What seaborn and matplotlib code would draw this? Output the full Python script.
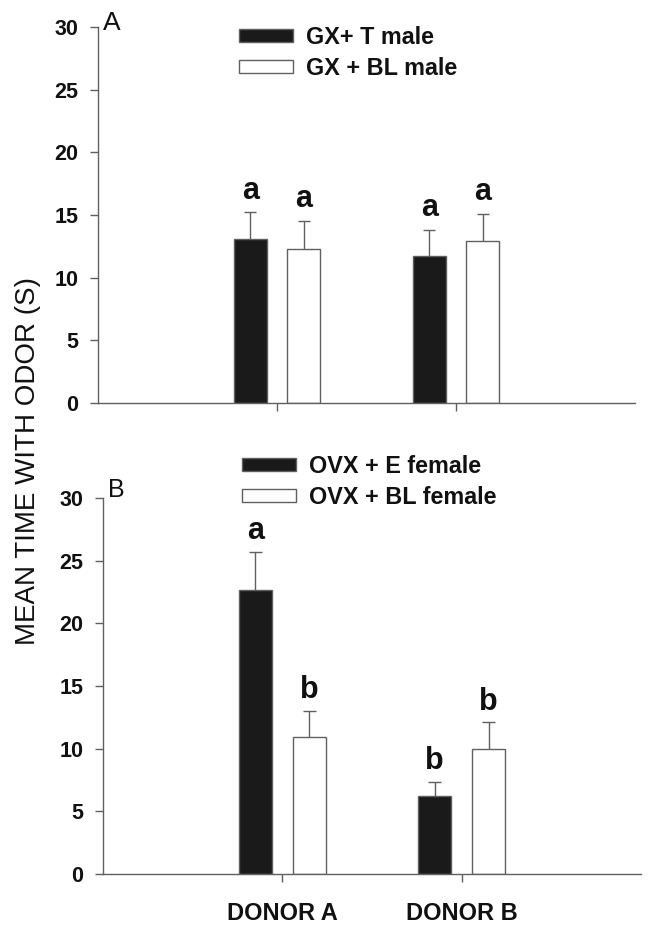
import matplotlib
matplotlib.use("Agg")
import matplotlib.pyplot as plt
import matplotlib.patches as mpatches
import seaborn as sns
import pandas as pd

# ---- data ----
donors = ["DONOR A", "DONOR B"]

male_groups = ["GX+ T male", "GX + BL male"]
male_mean_t = [13.1, 11.75]
male_mean_bl = [12.3, 12.9]
male_sem_t = [2.1, 2.05]
male_sem_bl = [2.2, 2.2]
male_letters_t = ["a", "a"]
male_letters_bl = ["a", "a"]

female_groups = ["OVX + E female", "OVX + BL female"]
female_mean_e = [22.65, 6.2]
female_mean_bl = [10.9, 9.95]
female_sem_e = [3.05, 1.15]
female_sem_bl = [2.1, 2.15]
female_letters_e = ["a", "b"]
female_letters_bl = ["b", "b"]

yticks = [0, 5, 10, 15, 20, 25, 30]

# ---- style ----
sns.set_style("ticks")
plt.rcParams["font.family"] = ["Liberation Sans", "DejaVu Sans"]

W, H = 652, 925
fig = plt.figure(figsize=(W / 100, H / 100), dpi=100)

GREY = "#606060"
BLACK = "#1a1a1a"
TXT = "#111111"


def px_box(l, r, b, t):
    return [l / W, 1 - b / H, (r - l) / W, (b - t) / H]


def panel(ax, groups, m1, m2, s1, s2, l1, l2, show_xlabels, letter_offset):
    df = pd.DataFrame({
        "donor": donors * 2,
        "group": [groups[0]] * len(donors) + [groups[1]] * len(donors),
        "time": list(m1) + list(m2),
    })
    sns.barplot(data=df, x="donor", y="time", hue="group", order=donors,
                hue_order=groups, palette=[BLACK, "white"], saturation=1,
                width=0.6, gap=0.38, edgecolor=GREY, linewidth=1.0,
                errorbar=None, legend=False, ax=ax)
    sems = [s1, s2]
    letters = [l1, l2]
    means = [m1, m2]
    for ci, cont in enumerate(ax.containers):
        for bi, bar in enumerate(cont.patches):
            xc = bar.get_x() + bar.get_width() / 2
            top = means[ci][bi]
            cap = top + sems[ci][bi]
            ax.vlines(xc, top, cap, color=GREY, lw=1.0, zorder=3)
            hw = 0.035
            ax.hlines(cap, xc - hw, xc + hw, color=GREY, lw=1.0, zorder=3)
            ax.text(xc, cap + letter_offset, letters[ci][bi], ha="center",
                    va="bottom", fontsize=22, fontweight="bold", color=TXT)
    ax.set_xlim(-1, 2)
    ax.set_ylim(0, 30)
    ax.set_yticks(yticks)
    ax.set_yticklabels([str(v) for v in yticks], fontsize=15.5, fontweight="bold",
                       color=TXT)
    ax.set_xticks([0, 1])
    if show_xlabels:
        ax.set_xticklabels(donors, fontsize=17, fontweight="bold", color=TXT)
    else:
        ax.set_xticklabels(["", ""])
    ax.set_xlabel("")
    ax.set_ylabel("")
    ax.tick_params(axis="both", direction="out", length=6, width=1.0,
                   color=GREY, pad=8)
    ax.tick_params(axis="x", pad=14)
    for sp in ["top", "right"]:
        ax.spines[sp].set_visible(False)
    for sp in ["left", "bottom"]:
        ax.spines[sp].set_color(GREY)
        ax.spines[sp].set_linewidth(1.0)
    ax.set_facecolor("white")


ax1 = fig.add_axes(px_box(98, 635, 403, 27))
panel(ax1, male_groups, male_mean_t, male_mean_bl, male_sem_t, male_sem_bl,
      male_letters_t, male_letters_bl, False, 0.55)

ax2 = fig.add_axes(px_box(103, 641, 874, 498))
panel(ax2, female_groups, female_mean_e, female_mean_bl, female_sem_e,
      female_sem_bl, female_letters_e, female_letters_bl, True, 0.45)


def make_legend(groups, x_px, y_px):
    handles = [mpatches.Patch(facecolor=BLACK, edgecolor=GREY, lw=1.0, label=groups[0]),
               mpatches.Patch(facecolor="white", edgecolor=GREY, lw=1.0, label=groups[1])]
    leg = fig.legend(handles=handles, loc="upper left",
                     bbox_to_anchor=(x_px / W, 1 - y_px / H),
                     bbox_transform=fig.transFigure, frameon=False,
                     prop={"size": 16.8, "weight": "bold"}, borderpad=0,
                     borderaxespad=0, handlelength=2.32, handleheight=0.47,
                     handletextpad=0.56, labelspacing=0.34)
    for t in leg.get_texts():
        t.set_color(TXT)
    return leg


make_legend(male_groups, 239, 26)
make_legend(female_groups, 242, 455)

fig.text(103 / W, 1 - 30 / H, "A", fontsize=19, color=TXT, ha="left", va="baseline")
fig.text(108 / W, 1 - 497 / H, "B", fontsize=18, color=TXT, ha="left", va="baseline")

fig.text(28 / W, 1 - 461 / H, "MEAN TIME WITH ODOR (S)", rotation=90,
         fontsize=20, color=TXT, ha="center", va="center")

fig.savefig("out.png", dpi=100, facecolor="white")
